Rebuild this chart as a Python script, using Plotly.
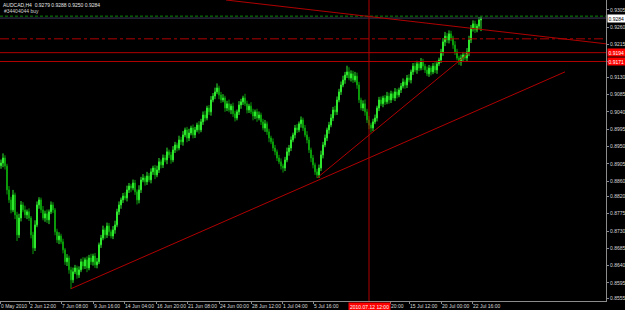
import plotly.graph_objects as go

# ---------------- data ----------------
first_open = 0.8900
closes = [
    0.8907, 0.8920, 0.8899, 0.8837, 0.8811, 0.8785, 0.8824, 0.8772, 0.8720, 0.8764,
    0.8798, 0.8785, 0.8772, 0.8780, 0.8764, 0.8720, 0.8686, 0.8746, 0.8798, 0.8811,
    0.8785, 0.8764, 0.8775, 0.8759, 0.8780, 0.8798, 0.8785, 0.8728, 0.8707, 0.8717,
    0.8702, 0.8681, 0.8650, 0.8660, 0.8629, 0.8603, 0.8624, 0.8634, 0.8616, 0.8629,
    0.8650, 0.8639, 0.8655, 0.8634, 0.8660, 0.8650, 0.8665, 0.8642, 0.8650, 0.8694,
    0.8712, 0.8733, 0.8720, 0.8743, 0.8728, 0.8717, 0.8733, 0.8746, 0.8780, 0.8798,
    0.8811, 0.8821, 0.8816, 0.8837, 0.8847, 0.8842, 0.8855, 0.8832, 0.8811, 0.8837,
    0.8863, 0.8868, 0.8858, 0.8873, 0.8863, 0.8884, 0.8894, 0.8876, 0.8889, 0.8910,
    0.8902, 0.8920, 0.8915, 0.8936, 0.8928, 0.8915, 0.8941, 0.8954, 0.8946, 0.8967,
    0.8962, 0.8980, 0.8993, 0.8972, 0.8985, 0.8998, 0.8980, 0.8993, 0.9006, 0.8993,
    0.9014, 0.9032, 0.9024, 0.9050, 0.9040, 0.9071, 0.9081, 0.9092, 0.9102, 0.9084,
    0.9071, 0.9076, 0.9050, 0.9061, 0.9045, 0.9055, 0.9035, 0.9024, 0.9040, 0.9058,
    0.9066, 0.9076, 0.9061, 0.9045, 0.9055, 0.9040, 0.9029, 0.9040, 0.9024, 0.9032,
    0.9014, 0.8998, 0.9009, 0.8988, 0.8972, 0.8962, 0.8946, 0.8936, 0.8920, 0.8910,
    0.8899, 0.8894, 0.8915, 0.8936, 0.8946, 0.8967, 0.8980, 0.8998, 0.8993, 0.9009,
    0.9019, 0.8998, 0.8980, 0.8967, 0.8941, 0.8920, 0.8902, 0.8884, 0.8876, 0.8894,
    0.8928, 0.8954, 0.8972, 0.8993, 0.9006, 0.9024, 0.9045, 0.9040, 0.9071, 0.9092,
    0.9110, 0.9123, 0.9136, 0.9144, 0.9128, 0.9139, 0.9123, 0.9133, 0.9110, 0.9071,
    0.9050, 0.9061, 0.9040, 0.9019, 0.9006, 0.8998, 0.9014, 0.9024, 0.9050, 0.9071,
    0.9061, 0.9076, 0.9066, 0.9081, 0.9071, 0.9087, 0.9076, 0.9092, 0.9084, 0.9097,
    0.9107, 0.9118, 0.9110, 0.9128, 0.9123, 0.9144, 0.9159, 0.9149, 0.9165, 0.9154,
    0.9170, 0.9159, 0.9149, 0.9139, 0.9154, 0.9144, 0.9159, 0.9149, 0.9165, 0.9175,
    0.9196, 0.9222, 0.9237, 0.9227, 0.9243, 0.9232, 0.9214, 0.9196, 0.9180, 0.9170,
    0.9180, 0.9188, 0.9180, 0.9196, 0.9227, 0.9258, 0.9269, 0.9253, 0.9263, 0.9279,
    0.9284,
]
upper_wick_pips = [
    9, 12, 7, 6, 10, 8, 13, 6, 8, 11,
    10, 7, 11, 6, 9, 5, 8, 12, 9, 7,
    6, 10, 8, 11, 6, 9, 7, 5, 8, 10,
    6, 8, 5, 10, 6, 8, 11, 8, 6, 9,
    8, 12, 6, 9, 8, 11, 6, 8, 10, 6,
    8, 11, 6, 9, 8, 6, 10, 11, 8, 9,
    6, 8, 10, 11, 8, 6, 9, 8, 6, 12,
    8, 10, 6, 11, 8, 9, 6, 8, 11, 10,
    6, 9, 8, 11, 6, 8, 10, 8, 6, 11,
    8, 10, 6, 8, 11, 6, 9, 8, 6, 10,
    8, 9, 11, 6, 8, 10, 8, 11, 12, 6,
    8, 10, 6, 8, 11, 6, 9, 8, 6, 10,
    8, 6, 11, 8, 6, 10, 8, 6, 8, 9,
    6, 8, 10, 6, 8, 6, 9, 8, 6, 8,
    9, 6, 8, 11, 8, 9, 6, 8, 10, 6,
    9, 6, 8, 10, 8, 6, 8, 6, 8, 9,
    11, 8, 9, 6, 8, 10, 8, 11, 9, 8,
    9, 11, 8, 16, 12, 9, 8, 11, 9, 8,
    6, 9, 11, 8, 10, 6, 8, 9, 6, 8,
    9, 6, 8, 11, 9, 8, 6, 10, 8, 6,
    8, 9, 6, 8, 10, 6, 8, 9, 8, 6,
    10, 8, 6, 9, 8, 6, 8, 10, 8, 6,
    8, 10, 11, 8, 9, 8, 6, 10, 8, 6,
    9, 8, 6, 10, 11, 8, 9, 8, 6, 8,
    4,
]
lower_wick_pips = [
    8, 11, 9, 12, 8, 9, 6, 11, 16, 8,
    9, 6, 8, 11, 8, 9, 16, 8, 6, 10,
    8, 6, 10, 8, 11, 6, 8, 9, 8, 11,
    6, 9, 8, 11, 10, 24, 8, 6, 10, 8,
    6, 9, 8, 11, 6, 8, 10, 8, 9, 6,
    8, 6, 10, 8, 11, 6, 8, 10, 6, 8,
    10, 8, 6, 9, 8, 11, 6, 8, 12, 9,
    8, 6, 10, 8, 6, 9, 8, 11, 6, 8,
    9, 8, 6, 11, 8, 10, 6, 8, 9, 6,
    8, 10, 6, 11, 8, 6, 9, 8, 6, 10,
    6, 8, 9, 6, 8, 10, 6, 8, 6, 11,
    8, 6, 10, 8, 6, 11, 8, 9, 6, 8,
    10, 8, 6, 9, 8, 6, 11, 8, 10, 6,
    8, 6, 10, 8, 11, 6, 8, 9, 8, 6,
    9, 12, 8, 6, 10, 8, 6, 9, 8, 6,
    10, 8, 6, 9, 8, 11, 9, 8, 8, 8,
    8, 9, 6, 8, 10, 6, 8, 9, 8, 6,
    8, 6, 10, 8, 6, 9, 8, 6, 10, 8,
    6, 8, 10, 8, 11, 12, 8, 6, 9, 8,
    6, 9, 8, 6, 10, 8, 6, 8, 9, 6,
    8, 6, 10, 8, 6, 9, 8, 6, 10, 8,
    6, 10, 8, 6, 8, 9, 6, 8, 10, 6,
    8, 10, 11, 8, 9, 8, 10, 8, 6, 8,
    10, 8, 6, 9, 11, 8, 9, 8, 6, 8,
    29,
]

price_tick_values = [0.9305, 0.9260, 0.9215, 0.9170, 0.9130, 0.9085, 0.9040, 0.8995,
                     0.8950, 0.8905, 0.8860, 0.8820, 0.8775, 0.8730, 0.8685, 0.8640,
                     0.8595, 0.8555]
time_tick_bars = [-0.5, 14, 30, 46, 61.5, 77.5, 93, 109, 125, 140.5, 156, 194.5, 204, 220, 235.5]
time_tick_labels = ["0 May 2010", "2 Jun 12:00", "7 Jun 08:00", "9 Jun 16:00", "14 Jun 04:00",
                    "16 Jun 20:00", "21 Jun 08:00", "24 Jun 00:00", "28 Jun 12:00", "1 Jul 04:00",
                    "5 Jul 16:00", "20:00", "15 Jul 12:00", "20 Jul 00:00", "22 Jul 16:00"]

# trend lines: (start bar, start price, end bar, end price)
trend_lines = [
    (35, 0.8580, 282, 0.9144),
    (158, 0.8868, 234.5, 0.9196),
    (112.5, 0.9331, 302.5, 0.9217),
]
solid_levels = [0.9194, 0.9171]
solid_level_labels = ["0.9194", "0.9171"]
dashdot_level = 0.9230
order_level = 0.9289
bid_level = 0.9284
crosshair_bar = 184
crosshair_label = "2010.07.12 12:00"
header_text = "AUDCAD,H4  0.9279 0.9288 0.9250 0.9284"
order_text = "#34404044 buy"

pip = 0.0001
x_range = [-0.5, 302.5]
y_range = [0.8548, 0.9331]

# ---------------- build ----------------
opens = [first_open] + closes[:-1]
highs = [max(o, c) + u * pip for o, c, u in zip(opens, closes, upper_wick_pips)]
lows = [min(o, c) - l * pip for o, c, l in zip(opens, closes, lower_wick_pips)]
bars = list(range(len(closes)))

FONT = "Liberation Sans"
AXIS = "#8c8c8c"
RED = "#b00000"

fig = go.Figure()
fig.add_trace(go.Candlestick(
    x=bars, open=opens, high=highs, low=lows, close=closes,
    increasing=dict(line=dict(color="#2ee82e", width=1), fillcolor="#2ee82e"),
    decreasing=dict(line=dict(color="#0a9a0a", width=1), fillcolor="#0a9a0a"),
    whiskerwidth=0, hoverinfo="skip",
))

shapes = []
shapes.append(dict(type="line", xref="paper", yref="y", x0=0, x1=1, y0=order_level, y1=order_level,
                   line=dict(color="#0a8a0a", width=1, dash="3px,2px")))
shapes.append(dict(type="line", xref="paper", yref="y", x0=0, x1=1, y0=bid_level, y1=bid_level,
                   line=dict(color="#3c3c58", width=1)))
shapes.append(dict(type="line", xref="paper", yref="y", x0=0, x1=1, y0=dashdot_level, y1=dashdot_level,
                   line=dict(color=RED, width=1, dash="dashdot")))
for lv in solid_levels:
    shapes.append(dict(type="line", xref="paper", yref="y", x0=0, x1=1, y0=lv, y1=lv,
                       line=dict(color=RED, width=1)))
for (b0, p0, b1, p1) in trend_lines:
    shapes.append(dict(type="line", xref="x", yref="y", x0=b0, y0=p0, x1=b1, y1=p1,
                       line=dict(color=RED, width=1)))
shapes.append(dict(type="line", xref="x", yref="paper", x0=crosshair_bar, x1=crosshair_bar, y0=0, y1=1,
                   line=dict(color=RED, width=1)))

annotations = [
    dict(xref="paper", yref="paper", x=0, y=1, xanchor="left", yanchor="top", xshift=1, yshift=0,
         text=header_text, showarrow=False, font=dict(family=FONT, size=5, color="#e6e6e6")),
    dict(xref="paper", yref="y", x=0, y=order_level, xanchor="left", yanchor="bottom", xshift=2, yshift=0,
         text=order_text, showarrow=False, font=dict(family=FONT, size=5, color="#d0d0d0")),
    dict(xref="paper", yref="y", x=1, y=bid_level, xanchor="left", yanchor="middle", xshift=1,
         text=f"{bid_level:.4f}", showarrow=False, bgcolor="#ffffff",
         font=dict(family=FONT, size=5, color="#000000"), borderpad=0.5),
]
for lv, lab in zip(solid_levels, solid_level_labels):
    annotations.append(dict(xref="paper", yref="y", x=1, y=lv, xanchor="left", yanchor="middle", xshift=1,
                            text=lab, showarrow=False, bgcolor="#ff0000",
                            font=dict(family=FONT, size=5, color="#ffffff"), borderpad=0.5))
annotations.append(dict(xref="x", yref="paper", x=crosshair_bar, y=0, xanchor="center", yanchor="top",
                        yshift=-1, text=crosshair_label, showarrow=False, bgcolor="#ff0000",
                        font=dict(family=FONT, size=5, color="#ffffff"), borderpad=1))

fig.update_layout(
    width=625, height=310,
    margin=dict(l=0, r=19, t=0, b=9, pad=0),
    paper_bgcolor="#000000", plot_bgcolor="#000000",
    showlegend=False,
    shapes=shapes, annotations=annotations,
    xaxis=dict(range=x_range, rangeslider=dict(visible=False), showgrid=False, zeroline=False,
               showline=True, linecolor=AXIS, linewidth=1,
               tickmode="array", tickvals=time_tick_bars, ticktext=time_tick_labels,
               tickangle=0,
               ticks="outside", ticklen=2, tickcolor=AXIS, ticklabelposition="outside right",
               tickfont=dict(family=FONT, size=5, color="#d8d8d8")),
    yaxis=dict(range=y_range, side="right", showgrid=False, zeroline=False,
               showline=True, linecolor=AXIS, linewidth=1,
               tickmode="array", tickvals=price_tick_values,
               ticktext=[f"{v:.4f}" for v in price_tick_values],
               ticks="outside", ticklen=2, tickcolor=AXIS,
               tickfont=dict(family=FONT, size=5, color="#d8d8d8")),
)

fig.write_html("out.html")
